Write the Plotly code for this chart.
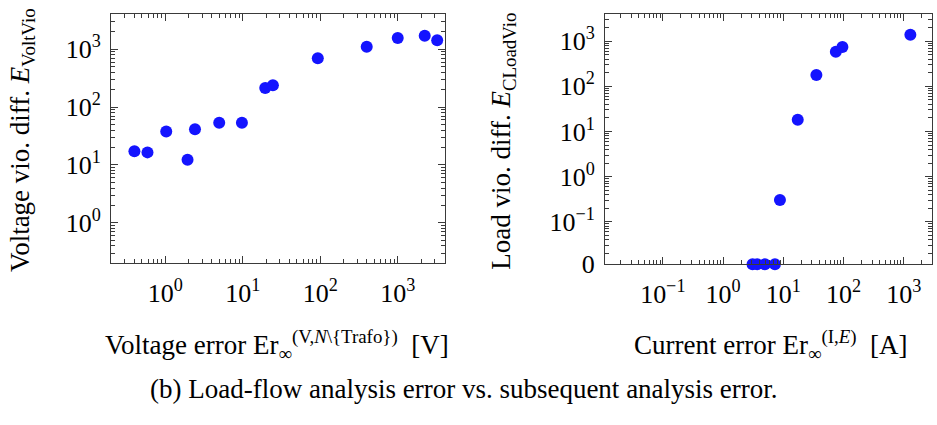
import plotly.graph_objects as go
import numpy as np

# ---- data ----
volt_err = [0.40, 0.59, 1.03, 1.94, 2.42, 4.97, 9.76, 19.5, 24.5, 93, 398, 1000, 2230, 3230]
volt_vio = [17.3, 16.5, 37.8, 12.3, 41.4, 53.5, 53.5, 213, 239, 698, 1107, 1565, 1711, 1432]

curr_err = [3.09, 3.69, 4.96, 7.27, 8.81, 17.4, 35.5, 74.7, 96, 1290]
load_vio = [0, 0, 0, 0, 0.306, 18.1, 178, 581, 741, 1385]

left_x_exps = [0, 1, 2, 3]
left_y_exps = [0, 1, 2, 3]
right_x_exps = [-1, 0, 1, 2, 3]
right_y_exps = [-1, 0, 1, 2, 3]

# ---- styling ----
FONT = "Liberation Serif"
FS = 26
FT = 27
BLUE = "#1414ff"
AX = "#3a3a3a"
ZERO_LOG = -1.94          # where zero values sit on the right log axis
ZERO_POS = 10 ** ZERO_LOG

def sup(e):
    s = str(e).replace("-", "\u2212")
    return f"10<sup>{s}</sup>"

def minors(lo, hi):
    vals = []
    for e in range(int(np.floor(lo)) - 1, int(np.ceil(hi)) + 1):
        for k in range(2, 10):
            v = k * 10 ** e
            if lo < np.log10(v) < hi:
                vals.append(v)
    return vals

y_load_plot = [v if v > 0 else ZERO_POS for v in load_vio]

fig = go.Figure()
fig.add_trace(go.Scatter(x=volt_err, y=volt_vio, mode="markers",
                         marker=dict(color=BLUE, size=12, line=dict(width=0)),
                         xaxis="x", yaxis="y", showlegend=False))
fig.add_trace(go.Scatter(x=curr_err, y=y_load_plot, mode="markers",
                         marker=dict(color=BLUE, size=12, line=dict(width=0)),
                         xaxis="x2", yaxis="y2", showlegend=False, cliponaxis=False))

W, H = 937, 425
def px(xp): return xp / W
def py(yp): return 1 - yp / H

lx_rng = [-0.70, 3.61]
ly_rng = [-0.70, 3.60]
rx_rng = [-1.96, 3.47]
ry_rng = [ZERO_LOG, 3.59]

common = dict(type="log", showline=True, linecolor=AX, linewidth=1, mirror="allticks",
              ticks="inside", ticklen=7, tickcolor=AX, tickwidth=1,
              showgrid=False, zeroline=False,
              tickfont=dict(family=FONT, size=FS, color="black"))

def axis(rng, tv, tt, dom, anchor, minor_vals, standoff):
    d = dict(common)
    d.update(range=rng, tickmode="array", tickvals=tv, ticktext=tt, domain=dom, anchor=anchor,
             ticklabelstandoff=standoff,
             minor=dict(tickmode="array", tickvals=minor_vals, ticks="inside", ticklen=4,
                        tickcolor=AX, tickwidth=1, showgrid=False))
    return d

fig.update_layout(
    width=W, height=H, margin=dict(l=0, r=0, t=0, b=0),
    paper_bgcolor="white", plot_bgcolor="white",
    font=dict(family=FONT, size=FS, color="black"),
    xaxis=axis(lx_rng, [10 ** e for e in left_x_exps], [sup(e) for e in left_x_exps],
               [px(111), px(445)], "y", minors(*lx_rng), 6),
    yaxis=axis(ly_rng, [10 ** e for e in left_y_exps], [sup(e) for e in left_y_exps],
               [py(273), py(15)], "x", minors(*ly_rng), 4),
    xaxis2=axis(rx_rng, [10 ** e for e in right_x_exps], [sup(e) for e in right_x_exps],
                [px(605), px(932)], "y2", minors(*rx_rng), 6),
    yaxis2=axis(ry_rng, [ZERO_POS] + [10 ** e for e in right_y_exps],
                ["0"] + [sup(e) for e in right_y_exps],
                [py(274), py(15)], "x2", minors(*ry_rng), 4),
)

ann = [
    dict(text="Voltage vio. diff. <i>E</i><sub>VoltVio</sub>", x=px(22), y=py(145), textangle=-90),
    dict(text="Load vio. diff. <i>E</i><sub>CLoadVio</sub>", x=px(503), y=py(146), textangle=-90),
    dict(text="Voltage error Er<sub>\u221e</sub><sup>(V,<i>N</i>\\{Trafo})</sup>\u2002[V]", x=px(277), y=py(358)),
    dict(text="Current error Er<sub>\u221e</sub><sup>(I,<i>E</i>)</sup>\u2002[A]", x=px(771), y=py(358)),
    dict(text="(b) Load-flow analysis error vs. subsequent analysis error.", x=px(464), y=py(403)),
]
for a in ann:
    fig.add_annotation(xref="paper", yref="paper", showarrow=False,
                       xanchor="center", yanchor="middle",
                       font=dict(family=FONT, size=FT, color="black"), **a)

fig.write_html("out.html")
